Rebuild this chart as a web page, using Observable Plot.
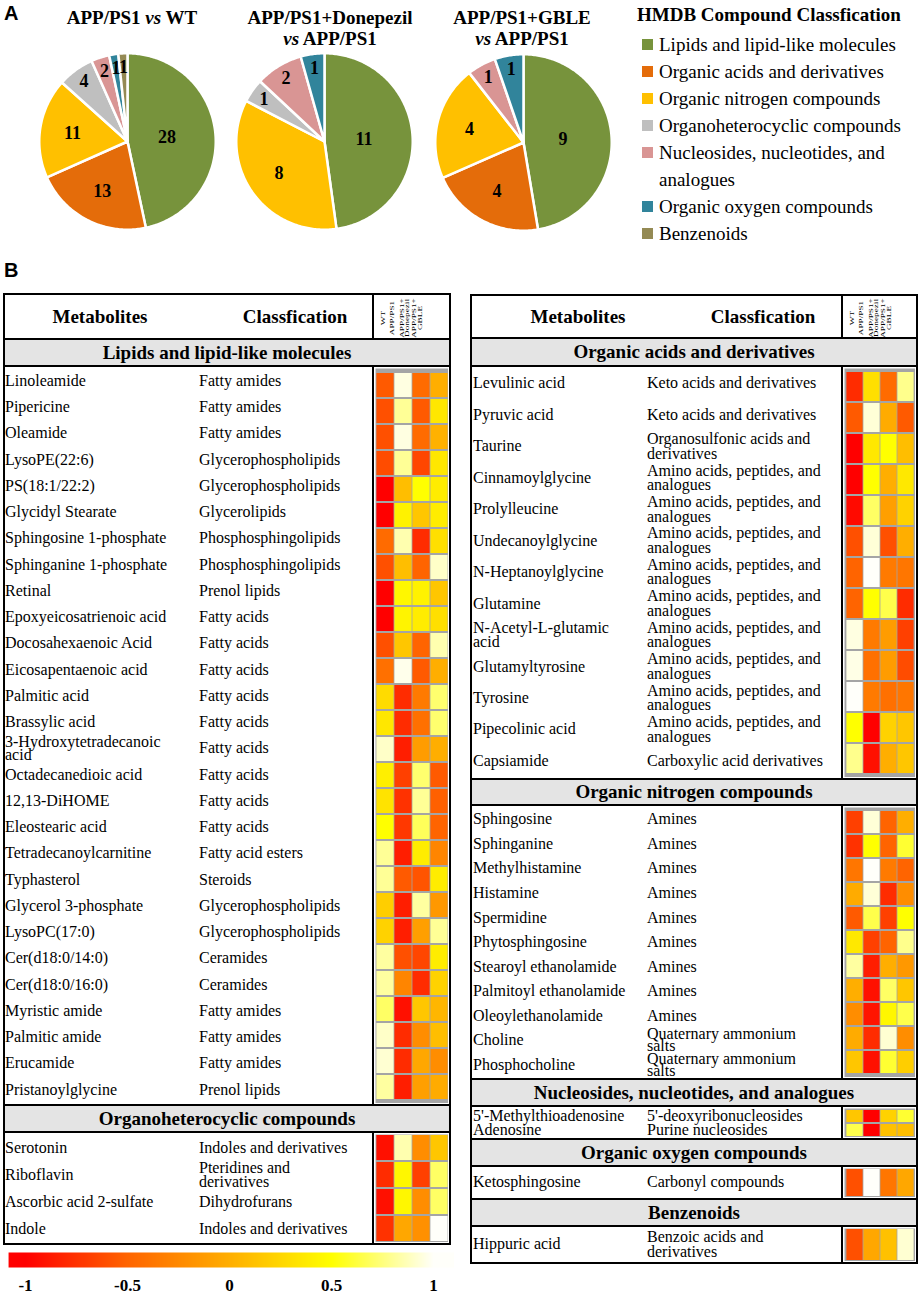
<!DOCTYPE html>
<html>
<head>
<meta charset="utf-8">
<script src="https://cdn.jsdelivr.net/npm/d3@7"></script>
<script src="https://cdn.jsdelivr.net/npm/@observablehq/plot@0.6"></script>
<style>
  body { margin: 0; background: #fff; }
  #root { position: relative; width: 920px; height: 1294px; overflow: hidden; background: #fff;
          font-family: 'Liberation Serif', 'Times New Roman', serif; color: #000; }
  #root div { box-sizing: border-box; }
  .row { position: absolute; display: flex; align-items: center; font-size: 16px; }
</style>
</head>
<body>
<div id="root"></div>
<script>
// ---------------- DATA ----------------
const pieCategories = ["Lipids and lipid-like molecules", "Organic acids and derivatives", "Organic nitrogen compounds",
  "Organoheterocyclic compounds", "Nucleosides, nucleotides, and analogues", "Organic oxygen compounds", "Benzenoids"];
const pieColors = ["#77933c", "#e46c0a", "#ffc000", "#bfbfbf", "#d99594", "#31849b", "#948a54"];
const pieTitles = ["APP/PS1 vs WT", "APP/PS1+Donepezil\nvs APP/PS1", "APP/PS1+GBLE\nvs APP/PS1"];
const countsWT = [28, 13, 11, 4, 2, 1, 1];
const countsDonepezil = [11, 0, 8, 1, 2, 1, 0];
const countsGBLE = [9, 4, 4, 0, 1, 1, 0];
const legendTitle = "HMDB Compound Classfication";

const heatColumns = ["WT", "APP/PS1", "APP/PS1+Donepezil", "APP/PS1+GBLE"];
const heatHeaderLines = ["WT", "APP/PS1", "APP/PS1+", "Donepezil", "APP/PS1+", "GBLE"];
const colorbarTicks = [-1, -0.5, 0, 0.5, 1];

const lipidNames = ["Linoleamide", "Pipericine", "Oleamide", "LysoPE(22:6)", "PS(18:1/22:2)", "Glycidyl Stearate",
  "Sphingosine 1-phosphate", "Sphinganine 1-phosphate", "Retinal", "Epoxyeicosatrienoic acid", "Docosahexaenoic Acid",
  "Eicosapentaenoic acid", "Palmitic acid", "Brassylic acid", "3-Hydroxytetradecanoic acid", "Octadecanedioic acid",
  "12,13-DiHOME", "Eleostearic acid", "Tetradecanoylcarnitine", "Typhasterol", "Glycerol 3-phosphate", "LysoPC(17:0)",
  "Cer(d18:0/14:0)", "Cer(d18:0/16:0)", "Myristic amide", "Palmitic amide", "Erucamide", "Pristanoylglycine"];
const lipidClasses = ["Fatty amides", "Fatty amides", "Fatty amides", "Glycerophospholipids", "Glycerophospholipids",
  "Glycerolipids", "Phosphosphingolipids", "Phosphosphingolipids", "Prenol lipids", "Fatty acids", "Fatty acids",
  "Fatty acids", "Fatty acids", "Fatty acids", "Fatty acids", "Fatty acids", "Fatty acids", "Fatty acids",
  "Fatty acid esters", "Steroids", "Glycerophospholipids", "Glycerophospholipids", "Ceramides", "Ceramides",
  "Fatty amides", "Fatty amides", "Fatty amides", "Prenol lipids"];
const lipidValues = [
  [-0.55, 0.95, -0.45, 0.0], [-0.6, 0.8, -0.55, 0.35], [-0.6, 0.95, -0.45, 0.02], [-0.62, 0.8, -0.65, 0.35],
  [-1, 0.1, 0.5, 0.38], [-1, 0.42, 0.15, 0.38], [-0.45, 0.85, -0.78, 0.3], [-0.6, 0.1, -0.5, 0.9],
  [-1, 0.45, 0.42, 0.15], [-1, 0.43, 0.38, 0.3], [-0.6, 0.15, -0.5, 0.85], [-0.42, 0.97, -0.55, 0.0],
  [0.28, -0.78, -0.35, 0.72], [0.35, -0.78, -0.42, 0.72], [0.9, -0.85, -0.12, 0.0], [0.4, -0.68, 0.72, -0.55],
  [0.33, -0.75, 0.8, -0.52], [0.5, -0.72, 0.68, -0.5], [0.8, -0.85, 0.38, -0.28], [0.8, -0.55, -0.58, 0.38],
  [0.2, -0.85, 0.82, -0.15], [0.22, -0.85, -0.1, 0.8], [0.82, -0.6, -0.65, 0.38], [0.82, -0.28, -0.78, 0.22],
  [0.7, -0.92, 0.15, 0.05], [0.9, -0.78, -0.22, 0.1], [0.92, -0.78, -0.05, -0.22], [0.82, -0.85, -0.1, -0.02]];

const organoNames = ["Serotonin", "Riboflavin", "Ascorbic acid 2-sulfate", "Indole"];
const organoClasses = ["Indoles and derivatives", "Pteridines and derivatives", "Dihydrofurans", "Indoles and derivatives"];
const organoValues = [[-0.92, 0.85, -0.22, 0.15], [-0.78, 0.45, -0.68, 0.7], [-0.92, 0.45, -0.22, 0.7], [-0.75, -0.05, -0.2, 1.0]];

const acidNames = ["Levulinic acid", "Pyruvic acid", "Taurine", "Cinnamoylglycine", "Prolylleucine", "Undecanoylglycine",
  "N-Heptanoylglycine", "Glutamine", "N-Acetyl-L-glutamic acid", "Glutamyltyrosine", "Tyrosine", "Pipecolinic acid", "Capsiamide"];
const acidClasses = ["Keto acids and derivatives", "Keto acids and derivatives", "Organosulfonic acids and derivatives",
  "Amino acids, peptides, and analogues", "Amino acids, peptides, and analogues", "Amino acids, peptides, and analogues",
  "Amino acids, peptides, and analogues", "Amino acids, peptides, and analogues", "Amino acids, peptides, and analogues",
  "Amino acids, peptides, and analogues", "Amino acids, peptides, and analogues", "Amino acids, peptides, and analogues",
  "Carboxylic acid derivatives"];
const acidValues = [
  [-0.78, 0.3, -0.45, 0.78], [-0.55, 0.93, -0.02, -0.55], [-1, 0.36, 0.5, 0.1], [-1, 0.5, 0.0, 0.36],
  [-0.95, 0.7, -0.1, 0.22], [-0.6, 0.93, -0.6, 0.0], [-0.5, 1.0, -0.35, -0.38], [-0.5, 0.5, 0.65, -0.78],
  [0.95, -0.35, -0.12, -0.68], [0.96, -0.42, -0.12, -0.62], [1.0, -0.35, -0.42, -0.38], [0.5, -1, 0.22, 0.15],
  [0.78, -0.92, 0.0, 0.15]];

const nitrogenNames = ["Sphingosine", "Sphinganine", "Methylhistamine", "Histamine", "Spermidine", "Phytosphingosine",
  "Stearoyl ethanolamide", "Palmitoyl ethanolamide", "Oleoylethanolamide", "Choline", "Phosphocholine"];
const nitrogenClasses = ["Amines", "Amines", "Amines", "Amines", "Amines", "Amines", "Amines", "Amines", "Amines",
  "Quaternary ammonium salts", "Quaternary ammonium salts"];
const nitrogenValues = [
  [-0.68, 0.93, -0.5, 0.0], [-0.75, 0.5, -0.5, 0.6], [-0.38, 1.0, -0.35, -0.5], [-0.02, 0.93, -0.78, -0.22],
  [-0.55, 0.65, -0.68, 0.5], [0.36, -0.68, -0.5, 0.78], [0.82, -0.85, 0.0, -0.15], [0.0, -0.92, 0.7, 0.15],
  [-0.22, -0.9, 0.45, 0.65], [-0.02, -0.78, 0.92, -0.22], [0.15, -0.92, 0.6, 0.2]];

const nucleoNames = ["5'-Methylthioadenosine", "Adenosine"];
const nucleoClasses = ["5'-deoxyribonucleosides", "Purine nucleosides"];
const nucleoValues = [[0.15, -1, 0.22, 0.6], [0.65, -1, 0.12, 0.1]];

const oxygenNames = ["Ketosphingosine"];
const oxygenClasses = ["Carbonyl compounds"];
const oxygenValues = [[-0.6, 1.0, -0.38, -0.05]];

const benzNames = ["Hippuric acid"];
const benzClasses = ["Benzoic acids and derivatives"];
const benzValues = [[-0.6, -0.05, 0.12, 0.92]];

// ---------------- HELPERS ----------------
const root = document.getElementById("root");
const SERIF = "'Liberation Serif', 'Times New Roman', serif";
function el(css, content, html) {
  const e = document.createElement("div");
  e.style.cssText = "position:absolute;" + css;
  if (content != null) { if (html) e.innerHTML = content; else e.textContent = content; }
  root.appendChild(e);
  return e;
}
function hline(x, y, w) { el(`left:${x}px;top:${y}px;width:${w}px;height:2px;background:#000;`); }
function vline(x, y, h) { el(`left:${x}px;top:${y}px;width:2px;height:${h}px;background:#000;`); }
function centerText(cx, cy, txt, font) {
  const w = el(`left:${cx}px;top:${cy}px;width:0;height:0;`);
  const s = document.createElement("div");
  s.style.cssText = `position:absolute;left:0;top:0;transform:translate(-50%,-50%);white-space:nowrap;font:${font};line-height:1.1;`;
  s.textContent = txt;
  w.appendChild(s);
}
function rotLabel(cx, cy, txt) {
  const w = el(`left:${cx}px;top:${cy}px;width:0;height:0;`);
  const s = document.createElement("div");
  s.style.cssText = `position:absolute;left:0;top:0;white-space:nowrap;font:6.6px ${SERIF};line-height:6.6px;transform:translate(-50%,-50%) rotate(-90deg) scale(1.4,1);`;
  s.textContent = txt;
  w.appendChild(s);
}
function place(node, x, y) {
  const w = el(`left:${x}px;top:${y}px;`);
  w.appendChild(node);
}

const colorScale = {type: "linear", domain: [-1, -0.5, 0, 0.5, 1],
  range: ["#ff0000", "#ff6400", "#ffae00", "#ffff00", "#fffffa"], interpolate: "rgb", clamp: true};

// ---------------- PANEL A: PIES ----------------
el(`left:4px;top:2px;font:bold 20px 'Liberation Sans',Arial,sans-serif;line-height:22px;`, "A");
el(`left:4px;top:259px;font:bold 20px 'Liberation Sans',Arial,sans-serif;line-height:22px;`, "B");

function pieChart(counts, size) {
  const data = pieCategories.map((c, i) => ({cat: c, value: counts[i]})).filter(d => d.value > 0);
  const arcs = d3.pie().value(d => d.value).sort(null)(data);
  const total = d3.sum(data, d => d.value);
  const pts = [];
  arcs.forEach(a => {
    const n = Math.max(2, Math.ceil((a.endAngle - a.startAngle) / 0.015));
    pts.push({cat: a.data.cat, x: 0, y: 0});
    for (let k = 0; k <= n; k++) {
      const t = a.startAngle + (a.endAngle - a.startAngle) * k / n;
      pts.push({cat: a.data.cat, x: Math.sin(t), y: Math.cos(t)});
    }
  });
  const labels = arcs.map(a => {
    const m = (a.startAngle + a.endAngle) / 2;
    const f = a.data.value / total;
    const r = f >= 0.4 ? 0.45 : f >= 0.15 ? 0.63 : 0.84;
    return {text: String(a.data.value), x: r * Math.sin(m), y: r * Math.cos(m)};
  });
  return Plot.plot({
    width: size, height: size, margin: 0,
    style: {background: "transparent", overflow: "visible", fontFamily: SERIF},
    x: {domain: [-1.02, 1.02], axis: null}, y: {domain: [-1.02, 1.02], axis: null},
    color: {domain: pieCategories, range: pieColors},
    marks: [
      Plot.line(pts, {x: "x", y: "y", z: "cat", fill: "cat", stroke: "white", strokeWidth: 2.5, curve: "linear-closed"}),
      Plot.text(labels, {x: "x", y: "y", text: "text", fontSize: 18, fontWeight: "bold", fill: "black", fontFamily: SERIF})
    ]
  });
}
const pieCenters = [[127, 141], [324, 141], [523, 142]];
const pieTitleCenters = [132, 330, 522];
[countsWT, countsDonepezil, countsGBLE].forEach((c, i) => {
  const size = 180;
  place(pieChart(c, size), pieCenters[i][0] - size / 2, pieCenters[i][1] - size / 2);
  const html = pieTitles[i].split("\n").map(l => l.replace(/\bvs\b/, "<i>vs</i>")).join("<br>");
  el(`left:${pieTitleCenters[i] - 110}px;top:7px;width:220px;text-align:center;font:bold 19px ${SERIF};line-height:21px;`, html, true);
});

// legend
el(`left:637px;top:4px;font:bold 19px ${SERIF};line-height:22px;white-space:nowrap;`, legendTitle);
const leg = el(`left:642px;top:31px;width:275px;`);
pieCategories.forEach((c, i) => {
  const item = document.createElement("div");
  item.style.cssText = "display:flex;align-items:flex-start;";
  const sw = document.createElement("div");
  sw.style.cssText = `width:11px;height:11px;margin-top:8px;margin-right:6px;flex:none;background:${pieColors[i]};`;
  const tx = document.createElement("div");
  tx.style.cssText = `width:250px;font:19px ${SERIF};line-height:27px;`;
  tx.textContent = c;
  item.appendChild(sw); item.appendChild(tx); leg.appendChild(item);
});

// ---------------- PANEL B: TABLES ----------------
function heatPlot(names, values, width, height) {
  const cells = names.flatMap((n, i) => heatColumns.map((c, j) => ({name: n, col: c, value: values[i][j]})));
  return Plot.plot({
    width, height, margin: 0, style: {background: "transparent"},
    x: {domain: heatColumns, axis: null, padding: 0},
    y: {domain: names, axis: null, padding: 0},
    color: colorScale,
    marks: [
      Plot.frame({fill: "#a5a5a5", stroke: "none"}),
      Plot.cell(cells, {x: "col", y: "name", fill: "value", insetTop: 1, insetBottom: 1, insetLeft: 0.4, insetRight: 0.4})
    ]
  });
}
const heatHeaderOffsets = [10.5, 20, 29.5, 35, 42, 47.5];

function buildTable(cfg) {
  const {x0, x1, div, top, headBottom, bottom, nameX, nameW, classX, classW, metX, clsX, sections} = cfg;
  const W = x1 - x0;
  hline(x0, top, W); hline(x0, bottom - 2, W); vline(x0, top, bottom - top); vline(x1 - 2, top, bottom - top);
  hline(x0, headBottom, W);
  vline(div, top, headBottom - top);
  const hc = (top + headBottom) / 2 + 1;
  centerText(metX, hc, "Metabolites", `bold 19px ${SERIF}`);
  centerText(clsX, hc, "Classfication", `bold 19px ${SERIF}`);
  heatHeaderLines.forEach((t, k) => rotLabel(div + heatHeaderOffsets[k], hc + 1, t));
  sections.forEach(s => {
    const [bTop, bBot, rBot] = s.layout;
    el(`left:${x0 + 2}px;top:${bTop}px;width:${W - 4}px;height:${bBot - bTop}px;background:#e4e4e4;`);
    hline(x0, bTop, W); hline(x0, bBot, W);
    centerText((x0 + x1) / 2, (bTop + bBot + 2) / 2, s.title, `bold 19px ${SERIF}`);
    vline(div, bBot, rBot - bBot);
    const hTop = bBot + 3, hH = rBot - bBot - 4, hL = div + 3, hW = (x1 - 3) - hL;
    place(heatPlot(s.names, s.values, hW, hH), hL, hTop);
    const rowH = hH / s.names.length;
    const lh = Math.min(14.6, Math.max(11.5, rowH / 2 - 0.4));
    s.names.forEach((n, k) => {
      const y = hTop + k * rowH;
      const a = el(`left:${nameX}px;top:${y}px;width:${nameW}px;height:${rowH}px;line-height:${lh}px;`, n);
      a.className = "row";
      const b = el(`left:${classX}px;top:${y}px;width:${classW}px;height:${rowH}px;line-height:${lh}px;`, s.classes[k]);
      b.className = "row";
    });
  });
}

buildTable({
  x0: 3, x1: 451, div: 372, top: 293, headBottom: 338, bottom: 1245,
  nameX: 5, nameW: 176, classX: 199, classW: 158, metX: 100, clsX: 295,
  sections: [
    {title: "Lipids and lipid-like molecules", names: lipidNames, classes: lipidClasses, values: lipidValues, layout: [338, 365, 1104]},
    {title: "Organoheterocyclic compounds", names: organoNames, classes: organoClasses, values: organoValues, layout: [1104, 1131, 1243]}
  ]
});
buildTable({
  x0: 470, x1: 918, div: 841, top: 294, headBottom: 337, bottom: 1264,
  nameX: 473, nameW: 162, classX: 647, classW: 179, metX: 578, clsX: 763,
  sections: [
    {title: "Organic acids and derivatives", names: acidNames, classes: acidClasses, values: acidValues, layout: [337, 365, 778]},
    {title: "Organic nitrogen compounds", names: nitrogenNames, classes: nitrogenClasses, values: nitrogenValues, layout: [778, 804, 1078]},
    {title: "Nucleosides, nucleotides, and analogues", names: nucleoNames, classes: nucleoClasses, values: nucleoValues, layout: [1078, 1105, 1138]},
    {title: "Organic oxygen compounds", names: oxygenNames, classes: oxygenClasses, values: oxygenValues, layout: [1138, 1165, 1198]},
    {title: "Benzenoids", names: benzNames, classes: benzClasses, values: benzValues, layout: [1198, 1225, 1262]}
  ]
});

// ---------------- COLOR BAR ----------------
const cb = Plot.plot({
  width: 462, height: 40, marginLeft: 25, marginRight: 29, marginTop: 0, marginBottom: 25,
  style: {fontFamily: SERIF, fontSize: "17px", fontWeight: "bold", background: "transparent", overflow: "visible", color: "black"},
  x: {domain: [-1, 1]}, y: {domain: [0, 1], axis: null},
  color: colorScale,
  marks: [
    Plot.raster({fill: (x, y) => x, x1: -1.083, x2: 1.1, y1: 0, y2: 1}),
    Plot.axisX({ticks: colorbarTicks, tickFormat: d => String(d), tickSize: 0, tickPadding: 11})
  ]
});
place(cb, 0, 1252);
</script>
</body>
</html>
